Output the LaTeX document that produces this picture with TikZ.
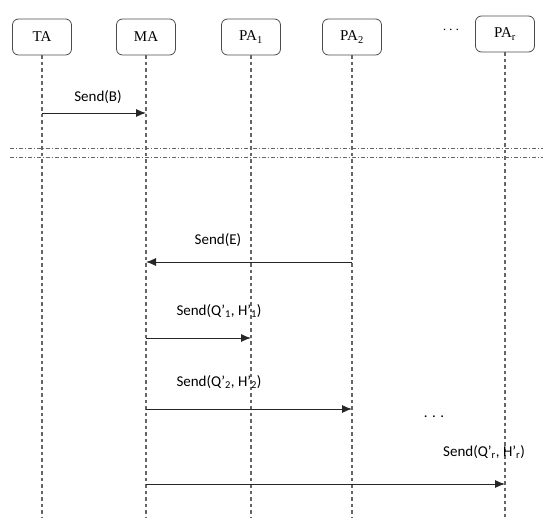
\documentclass[tikz,border=0pt]{standalone}
\usepackage{fontspec}
\setmainfont{Liberation Serif}
\newfontfamily\lblfont{Carlito}
\usetikzlibrary{arrows.meta}
\begin{document}
\begin{tikzpicture}[x=1pt,y=-1pt,
  actor/.style={draw=black!70,line width=0.8pt,rounded corners=6pt,minimum width=59pt,minimum height=36pt,font=\fontsize{15}{17}\selectfont,inner sep=0pt},
  life/.style={draw=black!60,line width=1.1pt,dash pattern=on 3.5pt off 3pt},
  msg/.style={draw=black!85,line width=0.9pt,-{Latex[length=10pt,width=8pt]}},
  lbl/.style={font=\lblfont\fontsize{15}{17}\selectfont,inner sep=0pt},
  sep/.style={draw=black!60,line width=0.8pt,dash pattern=on 4pt off 2pt on 1pt off 2pt}]
\useasboundingbox (0,0) rectangle (560,518);
\node[actor] (ta) at (42,37) {TA};
\node[actor] (ma) at (146,37) {MA};
\node[actor] (pa1) at (251,37) {PA\textsubscript{1}};
\node[actor] (pa2) at (352,37) {PA\textsubscript{2}};
\node[actor] (par) at (505,34) {PA\textsubscript{r}};
\node[font=\fontsize{15}{17}\selectfont,inner sep=0pt] (hdots) at (451,30) {$\cdots$};
\coordinate (taE) at (42,518);
\coordinate (maE) at (146,518);
\coordinate (pa1E) at (251,518);
\coordinate (pa2E) at (352,518);
\coordinate (parE) at (505,518);
\draw[life] (ta) -- (taE);
\draw[life] (ma) -- (maE);
\draw[life] (pa1) -- (pa1E);
\draw[life] (pa2) -- (pa2E);
\draw[life] (par) -- (parE);
% separator
\coordinate (s1a) at (10,148); \coordinate (s1b) at (543,148);
\coordinate (s2a) at (10,157); \coordinate (s2b) at (543,157);
\draw[sep] (s1a) -- (s1b);
\draw[sep] (s2a) -- (s2b);
% messages
\draw[msg] (ta.south |- 0,113) -- (ma.south |- 0,113);
\node[lbl] (lB) at (98,97) {Send(B)};
\draw[msg] (pa2.south |- 0,262) -- (ma.south |- 0,262);
\node[lbl] (lE) at (218,240) {Send(E)};
\draw[msg] (ma.south |- 0,338) -- (pa1.south |- 0,338);
\node[lbl] (l1) at (219,311) {Send(Q’\textsubscript{1}, H’\textsubscript{1})};
\draw[msg] (ma.south |- 0,409) -- (pa2.south |- 0,409);
\node[lbl] (l2) at (219,382) {Send(Q’\textsubscript{2}, H’\textsubscript{2})};
\node[lbl] (vdots) at (434,417) {. . .};
\draw[msg] (ma.south |- 0,484) -- (par.south |- 0,484);
\node[lbl] (lr) at (484,452) {Send(Q’\textsubscript{r}, H’\textsubscript{r})};
\end{tikzpicture}
\end{document}
